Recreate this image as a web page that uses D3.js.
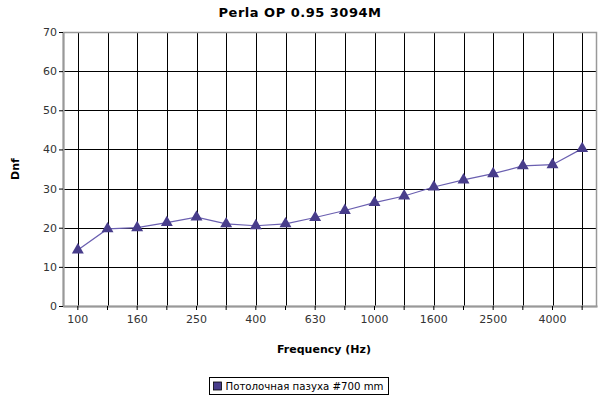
<!DOCTYPE html>
<html>
<head>
<meta charset="utf-8">
<script src="https://cdn.jsdelivr.net/npm/d3@7"></script>
<style>
  body { margin: 0; background: #fff; }
  text { font-family: "DejaVu Sans", sans-serif; }
</style>
</head>
<body>
<div id="chart"></div>
<script>
// chart data
var frequencies = ["100", "125", "160", "200", "250", "315", "400", "500", "630",
  "800", "1000", "1250", "1600", "2000", "2500", "3150", "4000", "5000"];
var labeledTicks = ["100", "160", "250", "400", "630", "1000", "1600", "2500", "4000"];
var dnfValues = [14.3, 19.7, 20.0, 21.3, 22.7, 21.0, 20.5, 21.0, 22.6,
  24.4, 26.4, 28.1, 30.4, 32.2, 33.8, 35.8, 36.1, 40.2];
var yTicks = [0, 10, 20, 30, 40, 50, 60, 70];
var seriesName = "Потолочная пазуха #700 mm";
var chartTitle = "Perla OP 0.95 3094M";

var margin = {top: 32, right: 3, bottom: 94, left: 63},
  width = 600 - margin.left - margin.right,
  height = 400 - margin.top - margin.bottom;

var svg = d3.select("#chart")
  .append("svg")
    .attr("width", 600)
    .attr("height", 400);

var g = svg.append("g")
  .attr("transform", "translate(" + margin.left + "," + margin.top + ")");

// scales
var x = d3.scaleBand().domain(frequencies).range([0, width]);
var y = d3.scaleLinear().domain([0, 70]).range([height, 0]);
var cx = function(d) { return x(d) + x.bandwidth() / 2; };

// grid lines
g.selectAll(".vgrid")
  .data(frequencies)
  .enter().append("line")
    .attr("x1", function(d) { return Math.round(cx(d)) + 0.5; })
    .attr("x2", function(d) { return Math.round(cx(d)) + 0.5; })
    .attr("y1", 0)
    .attr("y2", height)
    .attr("stroke", "#000")
    .attr("stroke-width", 1);

g.selectAll(".hgrid")
  .data(yTicks)
  .enter().append("line")
    .attr("x1", 0)
    .attr("x2", width)
    .attr("y1", function(d) { return Math.round(y(d)) + 0.5; })
    .attr("y2", function(d) { return Math.round(y(d)) + 0.5; })
    .attr("stroke", "#000")
    .attr("stroke-width", 1);

// plot border
g.append("rect")
  .attr("x", 0.5)
  .attr("y", 0.5)
  .attr("width", width - 1)
  .attr("height", height)
  .attr("fill", "none")
  .attr("stroke", "#999")
  .attr("stroke-width", 1.5);

// Y axis
var yAxis = g.append("g")
  .call(d3.axisLeft(y).tickValues(yTicks).tickSize(4).tickSizeOuter(0));
yAxis.select(".domain").attr("stroke", "#999").attr("stroke-width", 2);
yAxis.selectAll(".tick line").attr("stroke", "#000");
yAxis.selectAll("text")
  .style("font-size", "11px")
  .attr("fill", "#333")
  .attr("x", -6);

// X axis
var xAxis = g.append("g")
  .attr("transform", "translate(0," + height + ")")
  .call(d3.axisBottom(x).tickSize(4).tickSizeOuter(0)
    .tickFormat(function(d) { return labeledTicks.indexOf(d) >= 0 ? d : ""; }));
xAxis.select(".domain").attr("stroke", "#999").attr("stroke-width", 2);
xAxis.selectAll(".tick line").attr("stroke", "#000");
xAxis.selectAll("text")
  .style("font-size", "11px")
  .attr("fill", "#333")
  .attr("y", 9);

// axis labels
svg.append("text")
  .attr("x", 324)
  .attr("y", 353)
  .attr("text-anchor", "middle")
  .style("font-size", "11px")
  .style("font-weight", "bold")
  .text("Frequency (Hz)");

svg.append("text")
  .attr("transform", "translate(19," + (margin.top + height / 2) + ") rotate(-90)")
  .attr("text-anchor", "middle")
  .style("font-size", "11px")
  .style("font-weight", "bold")
  .text("Dnf");

// title
svg.append("text")
  .attr("x", 300)
  .attr("y", 17)
  .attr("text-anchor", "middle")
  .style("font-size", "13px")
  .style("font-weight", "bold")
  .style("letter-spacing", "0.5px")
  .text(chartTitle);

// line
var line = d3.line()
  .x(function(d, i) { return cx(frequencies[i]); })
  .y(function(d) { return y(d); });

g.append("path")
  .datum(dnfValues)
  .attr("d", line)
  .attr("fill", "none")
  .attr("stroke", "#6a5fb0")
  .attr("stroke-width", 1.2);

// triangle markers
var tri = d3.symbol().type(d3.symbolTriangle).size(62);
g.selectAll(".marker")
  .data(dnfValues)
  .enter().append("path")
    .attr("d", tri)
    .attr("transform", function(d, i) {
      return "translate(" + cx(frequencies[i]) + "," + y(d) + ")";
    })
    .attr("fill", "#483d8b");

// legend
var legend = svg.append("g").attr("transform", "translate(209.5,377.5)");
legend.append("rect")
  .attr("width", 179)
  .attr("height", 17)
  .attr("fill", "#fff")
  .attr("stroke", "#000");
legend.append("rect")
  .attr("x", 4)
  .attr("y", 4.5)
  .attr("width", 8)
  .attr("height", 8)
  .attr("fill", "#483d8b")
  .attr("stroke", "#000")
  .attr("stroke-width", 0.8);
legend.append("text")
  .attr("x", 16)
  .attr("y", 12.5)
  .style("font-size", "10.5px")
  .attr("textLength", 158)
  .attr("lengthAdjust", "spacingAndGlyphs")
  .attr("fill", "#000")
  .text(seriesName);
</script>
</body>
</html>
